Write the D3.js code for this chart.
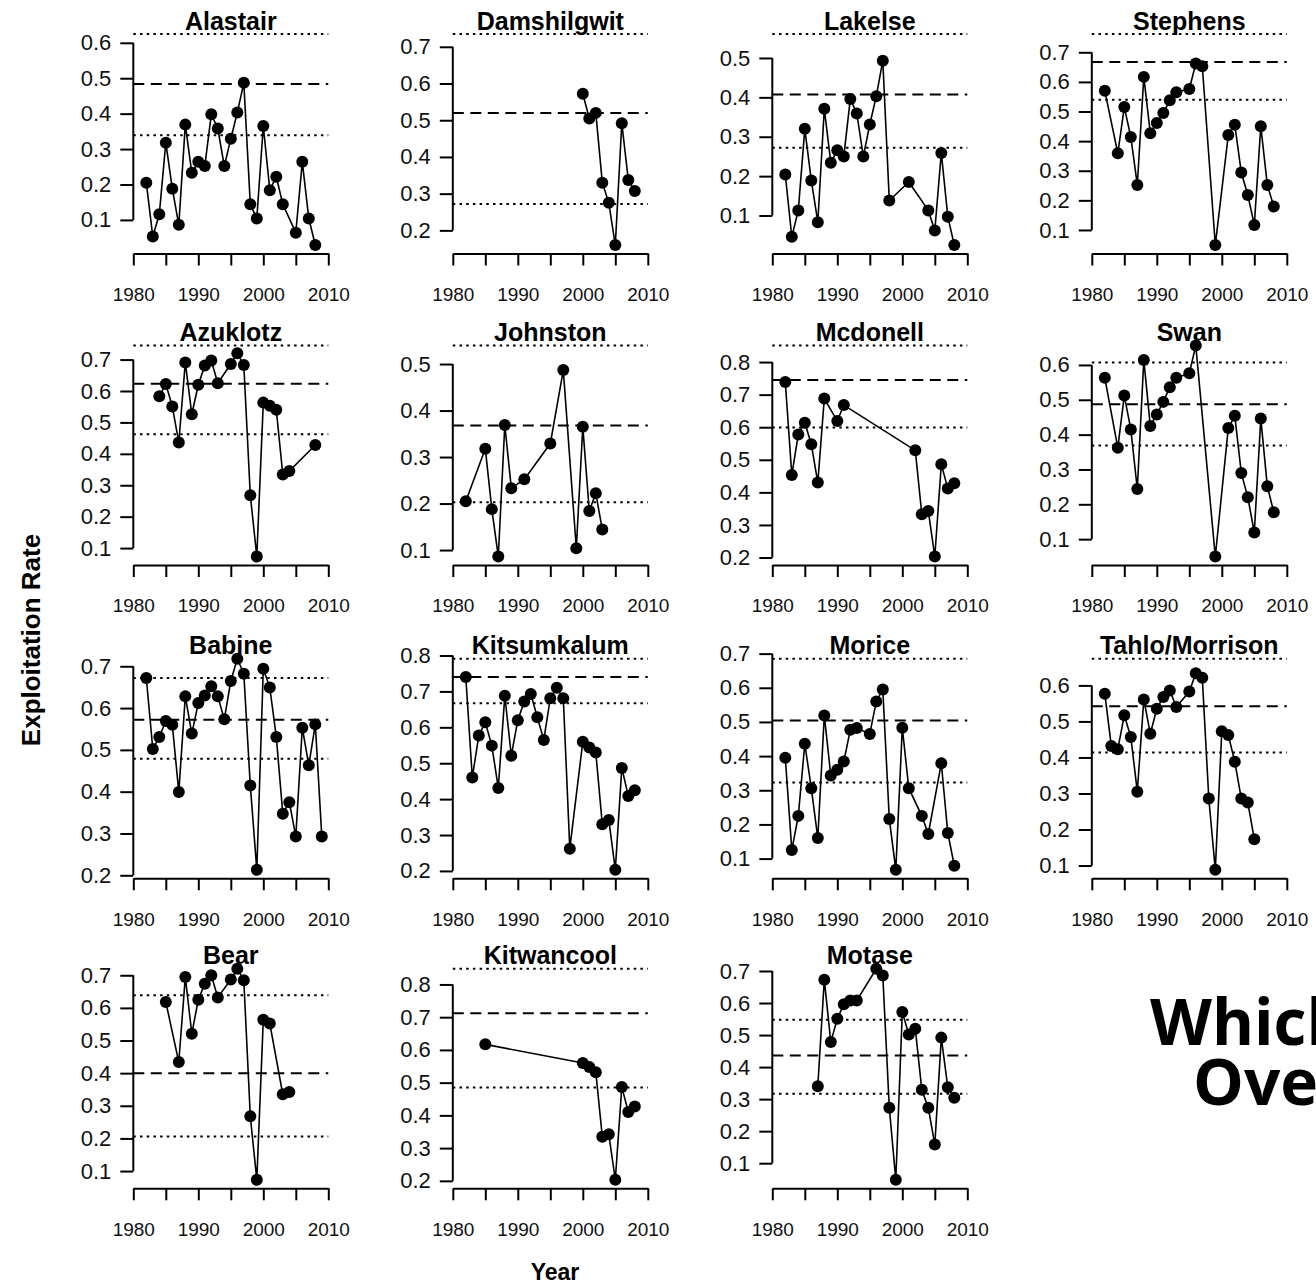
<!DOCTYPE html>
<html>
<head>
<meta charset="utf-8">
<script src="https://cdn.jsdelivr.net/npm/d3@7"></script>
<style>
body { margin: 0; background: #fff; }
svg { display: block; font-family: "Liberation Sans", Arial, sans-serif; }
</style>
</head>
<body>
<div id="chart"></div>
<script>
// river names, in panel order (left to right, top to bottom)
var rivers = ["Alastair", "Damshilgwit", "Lakelse", "Stephens",
              "Azuklotz", "Johnston", "Mcdonell", "Swan",
              "Babine", "Kitsumkalum", "Morice", "Tahlo/Morrison",
              "Bear", "Kitwancool", "Motase"];

// exploitation rate by year, one pair of arrays per river
var alastairYears = [1982,1983,1984,1985,1986,1987,1988,1989,1990,1991,1992,1993,1994,1995,1996,1997,1998,1999,2000,2001,2002,2003,2005,2006,2007,2008];
var alastairRate  = [0.205,0.053,0.116,0.318,0.188,0.086,0.369,0.233,0.264,0.252,0.398,0.358,0.252,0.329,0.403,0.487,0.144,0.104,0.365,0.184,0.222,0.144,0.064,0.264,0.104,0.029];

var damshilgwitYears = [2000,2001,2002,2003,2004,2005,2006,2007,2008];
var damshilgwitRate  = [0.572,0.505,0.520,0.330,0.275,0.160,0.492,0.337,0.307];

var lakelseYears = [1982,1983,1984,1985,1986,1987,1988,1989,1990,1991,1992,1993,1994,1995,1996,1997,1998,2001,2004,2005,2006,2007,2008];
var lakelseRate  = [0.204,0.046,0.113,0.320,0.189,0.083,0.371,0.234,0.266,0.250,0.396,0.359,0.250,0.331,0.403,0.493,0.138,0.185,0.113,0.062,0.259,0.097,0.025];

var stephensYears = [1982,1984,1985,1986,1987,1988,1989,1990,1991,1992,1993,1995,1996,1997,1999,2001,2002,2003,2004,2005,2006,2007,2008];
var stephensRate  = [0.570,0.359,0.515,0.414,0.252,0.617,0.427,0.461,0.495,0.538,0.565,0.576,0.662,0.653,0.049,0.421,0.455,0.294,0.218,0.117,0.450,0.252,0.179];

var azuklotzYears = [1984,1985,1986,1987,1988,1989,1990,1991,1992,1993,1995,1996,1997,1998,1999,2000,2001,2002,2003,2004,2008];
var azuklotzRate  = [0.583,0.622,0.551,0.436,0.691,0.526,0.620,0.681,0.697,0.625,0.686,0.720,0.683,0.268,0.073,0.563,0.553,0.540,0.334,0.345,0.428];

var johnstonYears = [1982,1985,1986,1987,1988,1989,1991,1995,1997,1999,2000,2001,2002,2003];
var johnstonRate  = [0.205,0.318,0.188,0.086,0.369,0.233,0.252,0.329,0.487,0.104,0.365,0.184,0.222,0.144];

var mcdonellYears = [1982,1983,1984,1985,1986,1987,1988,1990,1991,2002,2003,2004,2005,2006,2007,2008];
var mcdonellRate  = [0.739,0.453,0.578,0.614,0.548,0.430,0.688,0.619,0.668,0.529,0.333,0.343,0.203,0.486,0.412,0.428];

var swanYears = [1982,1984,1985,1986,1987,1988,1989,1990,1991,1992,1993,1995,1996,1999,2001,2002,2003,2004,2005,2006,2007,2008];
var swanRate  = [0.563,0.362,0.512,0.415,0.244,0.614,0.425,0.458,0.494,0.536,0.563,0.576,0.656,0.050,0.419,0.454,0.290,0.220,0.119,0.446,0.252,0.177];

var babineYears = [1982,1983,1984,1985,1986,1987,1988,1989,1990,1991,1992,1993,1994,1995,1996,1997,1998,1999,2000,2001,2002,2003,2004,2005,2006,2007,2008,2009];
var babineRate  = [0.672,0.502,0.531,0.569,0.560,0.399,0.628,0.539,0.612,0.630,0.652,0.628,0.573,0.665,0.718,0.682,0.415,0.213,0.694,0.649,0.531,0.347,0.375,0.293,0.553,0.463,0.561,0.293];

var kitsumkalumYears = [1982,1983,1984,1985,1986,1987,1988,1989,1990,1991,1992,1993,1994,1995,1996,1997,1998,2000,2001,2002,2003,2004,2005,2006,2007,2008];
var kitsumkalumRate  = [0.740,0.460,0.577,0.614,0.549,0.431,0.688,0.521,0.620,0.672,0.693,0.628,0.565,0.681,0.710,0.681,0.262,0.560,0.544,0.530,0.330,0.342,0.203,0.487,0.409,0.425];

var moriceYears = [1982,1983,1984,1985,1986,1987,1988,1989,1990,1991,1992,1993,1995,1996,1997,1998,1999,2000,2001,2003,2004,2006,2007,2008];
var moriceRate  = [0.395,0.125,0.225,0.436,0.306,0.160,0.519,0.343,0.360,0.384,0.477,0.482,0.465,0.560,0.595,0.216,0.067,0.483,0.306,0.225,0.172,0.379,0.175,0.079];

var tahloYears = [1982,1983,1984,1985,1986,1987,1988,1989,1990,1991,1992,1993,1995,1996,1997,1998,1999,2000,2001,2002,2003,2004,2005];
var tahloRate  = [0.577,0.432,0.423,0.517,0.457,0.305,0.561,0.466,0.535,0.568,0.586,0.540,0.583,0.634,0.621,0.286,0.088,0.473,0.462,0.388,0.286,0.275,0.173];

var bearYears = [1985,1987,1988,1989,1990,1991,1992,1993,1995,1996,1997,1998,1999,2000,2001,2003,2004];
var bearRate  = [0.618,0.434,0.695,0.521,0.625,0.674,0.700,0.632,0.687,0.720,0.685,0.268,0.073,0.564,0.552,0.335,0.342];

var kitwancoolYears = [1985,2000,2001,2002,2003,2004,2005,2006,2007,2008];
var kitwancoolRate  = [0.617,0.560,0.548,0.532,0.335,0.342,0.203,0.487,0.410,0.427];

var motaseYears = [1987,1988,1989,1990,1991,1992,1993,1996,1997,1998,1999,2000,2001,2002,2003,2004,2005,2006,2007,2008];
var motaseRate  = [0.340,0.673,0.478,0.551,0.596,0.608,0.608,0.707,0.686,0.273,0.048,0.572,0.502,0.520,0.329,0.273,0.158,0.492,0.337,0.304];

// reference levels per river (same order as rivers)
var upperLevel = [0.625,0.735,0.561,0.762,0.745,0.540,0.851,0.607,0.672,0.791,0.685,0.674,0.639,0.848,0.548];
var meanLevel  = [0.484,0.520,0.407,0.667,0.623,0.368,0.745,0.487,0.572,0.740,0.504,0.542,0.400,0.712,0.436];
var lowerLevel = [0.339,0.272,0.272,0.540,0.462,0.203,0.599,0.369,0.479,0.667,0.323,0.414,0.206,0.485,0.317];

var yearTicks = [1980,1985,1990,1995,2000,2005,2010];
var yearLabels = [1980,1990,2000,2010];

var seriesYears = [alastairYears, damshilgwitYears, lakelseYears, stephensYears,
                   azuklotzYears, johnstonYears, mcdonellYears, swanYears,
                   babineYears, kitsumkalumYears, moriceYears, tahloYears,
                   bearYears, kitwancoolYears, motaseYears];
var seriesRate = [alastairRate, damshilgwitRate, lakelseRate, stephensRate,
                  azuklotzRate, johnstonRate, mcdonellRate, swanRate,
                  babineRate, kitsumkalumRate, moriceRate, tahloRate,
                  bearRate, kitwancoolRate, motaseRate];

var W = 1316, H = 1285;
var panelW = 195, panelH = 228;
var colX = [133.3, 452.8, 772.3, 1091.8];
var rowBottom = [253.5, 565, 878.3, 1188.3];

var svg = d3.select("#chart").append("svg")
    .attr("width", W)
    .attr("height", H);

rivers.forEach(function (name, i) {
    var row = Math.floor(i / 4), col = i % 4;
    var x0 = colX[col], yb = rowBottom[row];
    var pts = seriesYears[i].map(function (yr, k) {
        return {year: yr, rate: seriesRate[i][k]};
    });

    // y range like R: data plus reference lines, padded 4%
    var all = seriesRate[i].concat([upperLevel[i], meanLevel[i], lowerLevel[i]]);
    var lo = d3.min(all), hi = d3.max(all), pad = (hi - lo) * 0.04;

    var x = d3.scaleLinear().domain([1980, 2010]).range([0, panelW]);
    var y = d3.scaleLinear().domain([lo - pad, hi + pad]).range([panelH, 0]);

    var g = svg.append("g")
        .attr("transform", "translate(" + x0 + "," + (yb - panelH) + ")");

    // reference lines
    [[upperLevel[i], "2.5,4.2"], [meanLevel[i], "11,6.5"], [lowerLevel[i], "2.5,4.2"]].forEach(function (d) {
        g.append("line")
            .attr("x1", 0).attr("x2", panelW)
            .attr("y1", y(d[0])).attr("y2", y(d[0]))
            .attr("stroke", "#000")
            .attr("stroke-width", 2)
            .attr("stroke-dasharray", d[1]);
    });

    // series
    g.append("path")
        .datum(pts)
        .attr("fill", "none")
        .attr("stroke", "#000")
        .attr("stroke-width", 1.6)
        .attr("d", d3.line().x(function (d) { return x(d.year); }).y(function (d) { return y(d.rate); }));

    g.selectAll("circle")
        .data(pts)
        .enter().append("circle")
        .attr("cx", function (d) { return x(d.year); })
        .attr("cy", function (d) { return y(d.rate); })
        .attr("r", 6)
        .attr("fill", "#000");

    // x axis
    var xAxis = d3.axisBottom(x)
        .tickValues(yearTicks)
        .tickSize(12)
        .tickSizeOuter(0)
        .tickPadding(22)
        .tickFormat(function (d) { return yearLabels.indexOf(d) >= 0 ? d : ""; });
    var gx = g.append("g")
        .attr("transform", "translate(0," + panelH + ")")
        .call(xAxis);

    // y axis, line only from first to last tick
    var yt = d3.range(Math.ceil((lo - pad) * 10 - 1e-9), Math.floor((hi + pad) * 10 + 1e-9) + 1)
        .map(function (k) { return k / 10; });
    var yAxis = d3.axisLeft(y)
        .tickValues(yt)
        .tickSize(13)
        .tickPadding(9)
        .tickFormat(d3.format(".1f"));
    var gy = g.append("g").call(yAxis);
    gy.select(".domain").remove();
    gy.append("line")
        .attr("x1", 0).attr("x2", 0)
        .attr("y1", y(yt[0])).attr("y2", y(yt[yt.length - 1]))
        .attr("stroke", "#000").attr("stroke-width", 2);

    [gx, gy].forEach(function (a) {
        a.selectAll(".domain").attr("stroke-width", 2);
        a.selectAll(".tick line").attr("stroke-width", 2);
        a.selectAll("text")
            .attr("font-family", "Liberation Sans, Arial, sans-serif")
            .attr("fill", "#111");
    });
    gx.selectAll("text").attr("font-size", 19);
    gy.selectAll("text").attr("font-size", 22);

    // panel title
    g.append("text")
        .attr("x", panelW / 2)
        .attr("y", 4)
        .attr("text-anchor", "middle")
        .attr("font-size", 25)
        .attr("font-weight", "bold")
        .text(name);
});

svg.append("text")
    .attr("transform", "translate(40,640) rotate(-90)")
    .attr("text-anchor", "middle")
    .attr("font-size", 26)
    .attr("font-weight", "bold")
    .text("Exploitation Rate");

svg.append("text")
    .attr("x", 555)
    .attr("y", 1280)
    .attr("text-anchor", "middle")
    .attr("font-size", 23)
    .attr("font-weight", "bold")
    .text("Year");

// slide headline, cut off at the right edge
svg.append("text")
    .attr("x", 1150)
    .attr("y", 1045)
    .attr("font-family", "'Open Sans', Lato, sans-serif")
    .attr("font-size", 64)
    .attr("font-weight", "bold")
    .text("Which");

svg.append("text")
    .attr("x", 1193)
    .attr("y", 1105)
    .attr("font-family", "'Open Sans', Lato, sans-serif")
    .attr("font-size", 64)
    .attr("font-weight", "bold")
    .text("Over");
</script>
</body>
</html>
